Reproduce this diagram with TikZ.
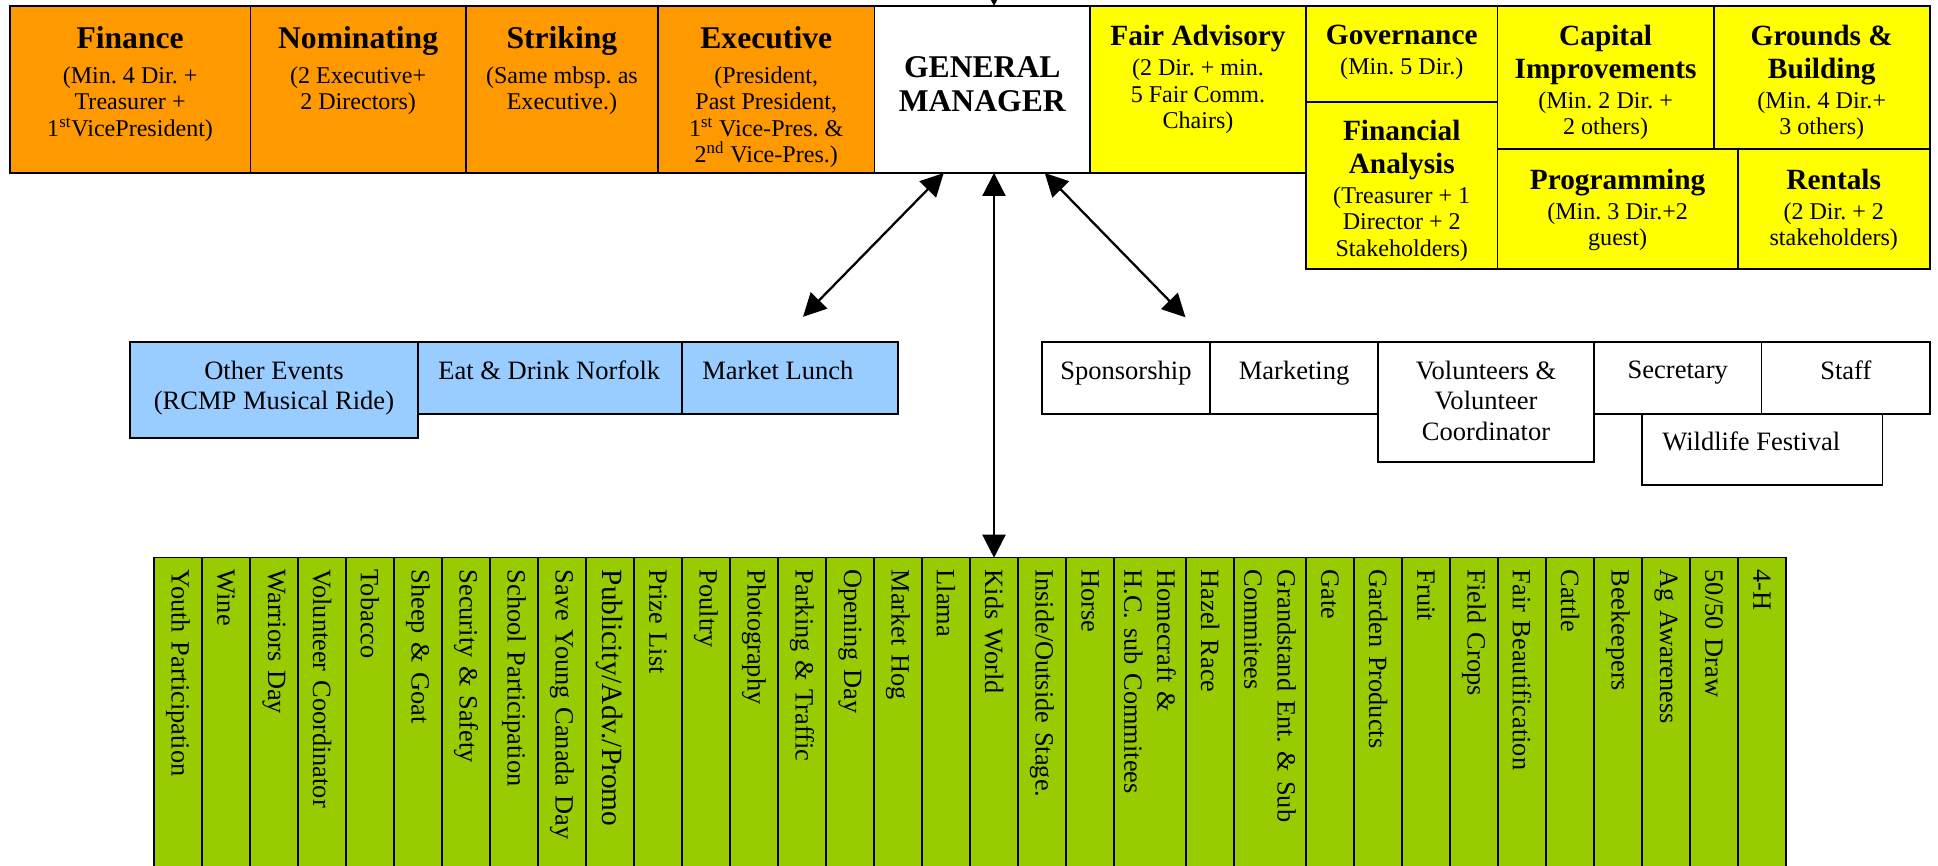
\documentclass[tikz,border=0pt]{standalone}
\usepackage{fontspec}
\setmainfont{Liberation Serif}
\usetikzlibrary{arrows.meta, positioning, fit, calc}
\frenchspacing

\definecolor{orangefill}{HTML}{FF9900}
\definecolor{yellowfill}{HTML}{FFFF00}
\definecolor{bluefill}{HTML}{99CCFF}
\definecolor{greenfill}{HTML}{99CC00}

\newcommand\orgtitle{\fontsize{18}{20}\selectfont\bfseries}
\newcommand\comtitle{\fontsize{16.7}{18.5}\selectfont\bfseries}

\begin{document}
\begin{tikzpicture}[
  x=0.2mm, y=-0.2mm,
  >={Triangle[length=4.6mm,width=4.6mm]},
  cell/.style={draw,line width=1pt,inner sep=0pt,outer sep=0pt},
  orangecell/.style={cell,fill=orangefill},
  yellowcell/.style={cell,fill=yellowfill},
  bluecell/.style={cell,fill=bluefill},
  whitecell/.style={cell,fill=white},
  celltext/.style={inner sep=0pt,align=center,font=\fontsize{13.7}{15.1}\selectfont},
  boxtext/.style={inner sep=0pt,align=center,font=\fontsize{15.1}{17.6}\selectfont},
  column/.style={draw,line width=0.7pt,fill=greenfill,rotate=-90,anchor=west,
    inner xsep=2.4mm,inner ysep=0pt,outer sep=0pt,text width=60mm,align=left},
  biarrow/.style={<->,line width=1.3pt},
  inarrow/.style={->,line width=1.3pt}
]
\useasboundingbox (0,0) rectangle (1938,866);
\clip (0,0) rectangle (1938,866);

% ----- Board committees (orange) --------------------------------------------
\node[orangecell,fit={(9.8,6) (250.4,173)}]  (fin) {};
\node[celltext,below=4mm of fin.north] (finT)
  {{\orgtitle Finance}\\[4.8pt] (Min. 4 Dir. +\\ Treasurer +\\ 1\textsuperscript{st}VicePresident)};

\node[orangecell,fit={(250.4,6) (465.8,173)}] (nom) {};
\node[celltext,below=4mm of nom.north] (nomT)
  {{\orgtitle Nominating}\\[4.8pt] (2 Executive+\\ 2 Directors)};

\node[orangecell,fit={(465.8,6) (658,173)}]   (str) {};
\node[celltext,below=4mm of str.north] (strT)
  {{\orgtitle Striking}\\[4.8pt] (Same mbsp. as\\ Executive.)};

\node[orangecell,fit={(658,6) (874.5,173)}]   (exe) {};
\node[celltext,below=4mm of exe.north] (exeT)
  {{\orgtitle Executive}\\[4.8pt] (President,\\ Past President,\\
   1\textsuperscript{st} Vice-Pres. \&\\ 2\textsuperscript{nd} Vice-Pres.)};

% ----- General manager ------------------------------------------------------
\node[whitecell,fit={(874.5,6) (1090,173)}]   (gm) {};
\node[inner sep=0pt,align=center,font=\fontsize{18}{19.3}\selectfont\bfseries,
  below=10.1mm of gm.north] (gmT) {GENERAL\\MANAGER};

% ----- Committees (yellow) --------------------------------------------------
\node[yellowcell,fit={(1090,6) (1306,173)}]   (fa) {};
\node[celltext,below=3.8mm of fa.north] (faT)
  {{\comtitle Fair Advisory}\\[1.9pt] (2 Dir. + min.\\ 5 Fair Comm.\\ Chairs)};

\node[yellowcell,fit={(1306,6) (1497.5,101.7)}] (gov) {};
\node[celltext,below=3.8mm of gov.north] (govT)
  {{\comtitle Governance}\\[1.9pt] (Min. 5 Dir.)};

\node[yellowcell,fit={(1306,101.7) (1497.5,269)}] (fan) {};
\node[celltext,below=3.7mm of fan.north] (fanT)
  {{\comtitle Financial}\\[3.4pt] {\comtitle Analysis}\\[1.9pt]
   (Treasurer + 1\\ Director + 2\\ Stakeholders)};

\node[yellowcell,fit={(1497.5,6) (1713.7,149)}] (cap) {};
\node[celltext,below=3.8mm of cap.north] (capT)
  {{\comtitle Capital}\\[3.4pt] {\comtitle Improvements}\\[1.9pt] (Min. 2 Dir. +\\ 2 others)};

\node[yellowcell,fit={(1713.7,6) (1929.8,149)}] (grd) {};
\node[celltext,below=3.8mm of grd.north] (grdT)
  {{\comtitle Grounds \&}\\[3.4pt] {\comtitle Building}\\[1.9pt] (Min. 4 Dir.+\\ 3 others)};

\node[yellowcell,fit={(1497.5,149) (1737.7,269)}] (prg) {};
\node[celltext,below=3.9mm of prg.north] (prgT)
  {{\comtitle Programming}\\[1.9pt] (Min. 3 Dir.+2\\ guest)};

\node[yellowcell,fit={(1737.7,149) (1929.8,269)}] (ren) {};
\node[celltext,below=3.9mm of ren.north] (renT)
  {{\comtitle Rentals}\\[1.9pt] (2 Dir. + 2\\ stakeholders)};

% ----- Events (blue) --------------------------------------------------------
\node[bluecell,fit={(129.9,342.3) (418,437.7)}] (ev) {};
\node[boxtext,below=3.6mm of ev.north] (evT) {Other Events\\(RCMP Musical Ride)};

\node[bluecell,fit={(418,342.3) (682,413.7)}]   (ed) {};
\node[boxtext,anchor=north west] (edT) at ([xshift=4mm,yshift=-3.6mm]ed.north west)
  {Eat \& Drink Norfolk};

\node[bluecell,fit={(682,342.3) (898,413.7)}]   (ml) {};
\node[boxtext,anchor=north west] (mlT) at ([xshift=4mm,yshift=-3.6mm]ml.north west)
  {Market Lunch};

% ----- Office (white) -------------------------------------------------------
\node[whitecell,fit={(1041.9,342.3) (1210,413.7)}] (sp) {};
\node[boxtext,below=3.6mm of sp.north] (spT) {Sponsorship};

\node[whitecell,fit={(1210,342.3) (1378.1,413.7)}] (mk) {};
\node[boxtext,below=3.6mm of mk.north] (mkT) {Marketing};

\node[whitecell,fit={(1378.1,342.3) (1594,462)}]   (vol) {};
\node[boxtext,below=3.6mm of vol.north] (volT) {Volunteers \&\\Volunteer\\Coordinator};

\node[whitecell,fit={(1594,342.3) (1761.5,413.7)}] (sec) {};
\node[boxtext,below=3.6mm of sec.north] (secT) {Secretary};

\node[whitecell,fit={(1761.5,342.3) (1930.2,413.7)}] (stf) {};
\node[boxtext,below=3.6mm of stf.north] (stfT) {Staff};

\node[whitecell,fit={(1641.9,413.7) (1882.4,485.3)}] (wf) {};
\node[boxtext,anchor=north west] (wfT) at ([xshift=4mm,yshift=-3.5mm]wf.north west)
  {Wildlife Festival};

% ----- Fair committees (green columns) --------------------------------------
\foreach \xc/\cw/\fs/\lbl [count=\i] in {
  178/48/15/{Youth Participation}, 226/48/15/{Wine}, 274/48/15/{Warriors Day},
  322/48/15/{Volunteer Coordinator}, 370/48/15/{Tobacco}, 418/48/15/{Sheep \& Goat},
  466/48/15/{Security \& Safety}, 514/48/15/{School Participation},
  562/48/15/{Save Young Canada Day}, 610/48/16.7/{Publicity/Adv./Promo},
  658/48/15/{Prize List}, 706/48/15/{Poultry}, 754/48/15/{Photography},
  802/48/15/{Parking \& Traffic}, 850/48/15/{Opening Day}, 898/48/15/{Market Hog},
  946/48/15/{Llama}, 994/48/15/{Kids World}, 1042/48/15/{Inside/Outside Stage.},
  1090/48/15/{Horse}, 1150/72/15/{Homecraft \&\\H.C. sub Commitees},
  1210/48/15/{Hazel Race}, 1270/72/15/{Grandstand Ent. \& Sub\\Commitees},
  1330/48/15/{Gate}, 1378/48/15/{Garden Products}, 1426/48/15/{Fruit},
  1474/48/15/{Field Crops}, 1522/48/15/{Fair Beautification}, 1570/48/15/{Cattle},
  1618/48/15/{Beekeepers}, 1666/48/15/{Ag Awareness}, 1714/48/15/{50/50 Draw},
  1762/48/15/{4-H}}
  \node[column,minimum height=\cw*0.2mm,font=\fontsize{\fs}{18.8}\selectfont]
    (col\i) at (\xc,557.7) {\lbl};

% ----- Arrows ---------------------------------------------------------------
\coordinate (gmL)   at ([xshift=-7.7mm]gm.south);
\coordinate (gmR)   at ([xshift=12.5mm]gm.south);
\coordinate (evTip) at ([xshift=2.6mm,yshift=5.1mm]ml.north);
\coordinate (spTip) at ([xshift=11.9mm,yshift=5mm]sp.north);
\coordinate (gmIn)  at ([yshift=8mm]gm.north -| col18.west);

\draw[biarrow] (gmL) -- (evTip);
\draw[biarrow] (gmR) -- (spTip);
\draw[biarrow] (gm.south -| col18.west) -- (col18.west);
\draw[inarrow] (gmIn) -- (gm.north -| col18.west);

\end{tikzpicture}
\end{document}
